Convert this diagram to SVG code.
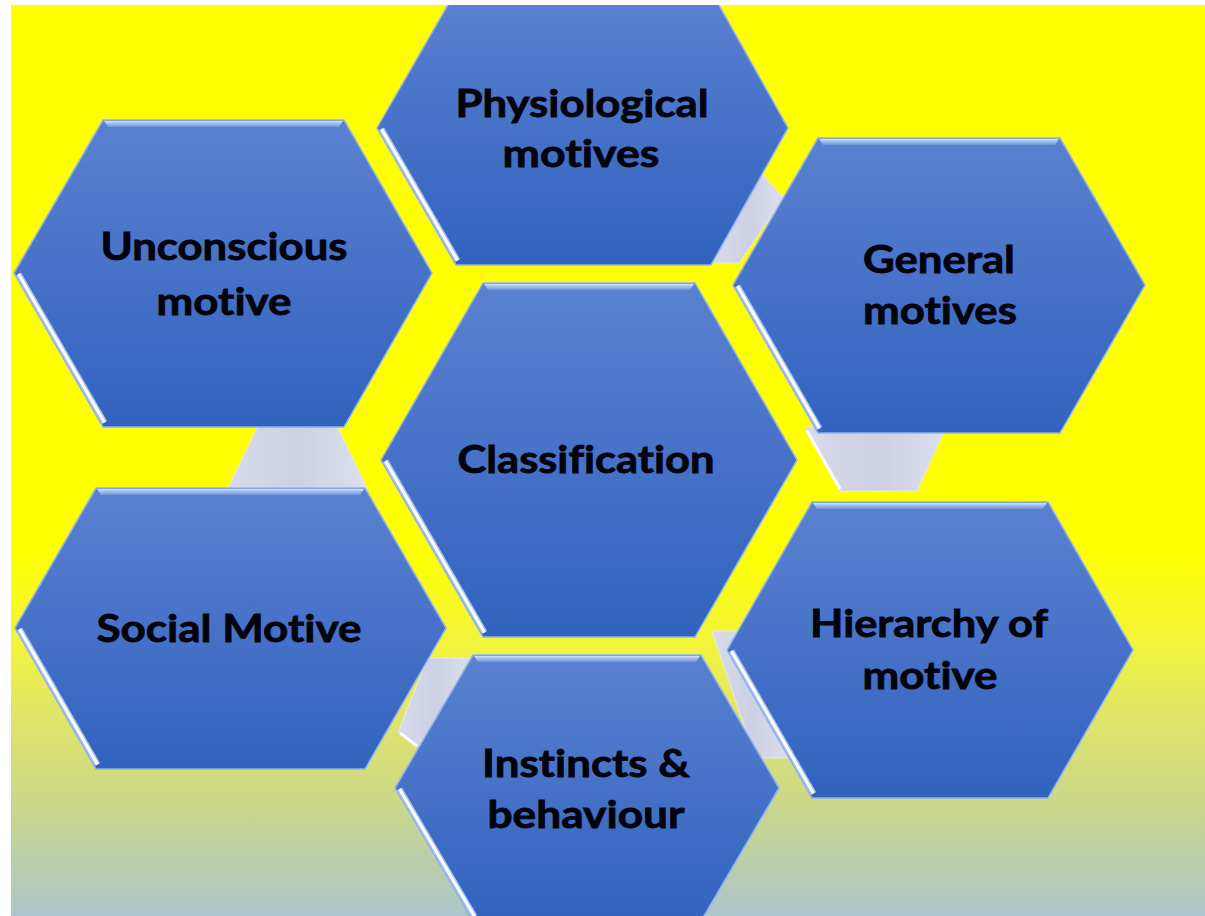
<svg xmlns="http://www.w3.org/2000/svg" width="1205" height="916" viewBox="0 0 1205 916">
  <defs>
    <clipPath id="slide">
      <rect x="11" y="5" width="1194" height="911"/>
    </clipPath>
    <linearGradient id="bg" gradientUnits="userSpaceOnUse" x1="0" y1="5" x2="0" y2="916">
      <stop offset="0" stop-color="#ffff00"/>
      <stop offset="0.6" stop-color="#ffff00"/>
      <stop offset="0.7" stop-color="#f2f43c"/>
      <stop offset="0.78" stop-color="#dfe568"/>
      <stop offset="0.89" stop-color="#c8d58f"/>
      <stop offset="1" stop-color="#acc5ca"/>
    </linearGradient>
    <linearGradient id="hexFill" x1="0" y1="0" x2="0" y2="1">
      <stop offset="0" stop-color="#5a81d0"/>
      <stop offset="0.45" stop-color="#4873c8"/>
      <stop offset="1" stop-color="#3163be"/>
    </linearGradient>
    <linearGradient id="bevelTop" x1="0" y1="0" x2="0" y2="1">
      <stop offset="0" stop-color="#d4e2f8"/>
      <stop offset="0.35" stop-color="#a8c2f0"/>
      <stop offset="1" stop-color="#6f93da"/>
    </linearGradient>
    <linearGradient id="linkFill" x1="0" y1="0" x2="1" y2="0">
      <stop offset="0" stop-color="#d8dbea"/>
      <stop offset="0.5" stop-color="#ccd0e3"/>
      <stop offset="1" stop-color="#dcdfed"/>
    </linearGradient>
    <style>
      .hex { fill: url(#hexFill); stroke: #8fb2ee; stroke-width: 1.5; stroke-linejoin: miter; }
      .bevel { fill: url(#bevelTop); }
      .edge-under { stroke: #a6c2f2; stroke-width: 6; fill: none; }
      .edge { stroke: #ffffff; stroke-width: 3; fill: none; }
      .link { fill: url(#linkFill); stroke: #e6e8f2; stroke-width: 1; }
      .link-edge { stroke: #ffffff; stroke-width: 3; fill: none; }
      .label { font-family: Lato, "Liberation Sans", sans-serif; font-weight: bold; font-size: 38px; font-variant-ligatures: none; fill: #03030c; stroke: #03030c; stroke-width: 0.8; text-anchor: middle; }
    </style>
  </defs>

  <g clip-path="url(#slide)">
    <rect x="11" y="5" width="1194" height="911" fill="url(#bg)"/>

    <!-- connecting pieces between the hexagons -->
    <g id="connectors">
      <polygon class="link" points="258,426 337,426 367,488 228,488"/>
      <polygon class="link" points="762,174 784,198 739,263 712,263"/>
      <polygon class="link" points="805,427 946,427 917,491 840,491"/>
      <line class="link-edge" x1="807" y1="431" x2="840" y2="489"/>
      <polygon class="link" points="428,658 474,658 421,748 398,732"/>
      <line class="link-edge" x1="400" y1="733" x2="417" y2="746"/>
      <polygon class="link" points="712,631 740,631 795,758 755,758"/>
    </g>

    <g id="node-physiological">
      <polygon class="hex" points="377,128 456,-9 711,-9 788,128 711,265 456,265"/>
      <line class="edge-under" x1="381.5" y1="129" x2="457.5" y2="260.5"/>
      <line class="edge" x1="381.5" y1="129" x2="457.5" y2="260.5"/>
      <text class="label" x="582" y="117" textLength="253" lengthAdjust="spacingAndGlyphs">Physiological</text>
      <text class="label" x="581" y="167" textLength="157" lengthAdjust="spacingAndGlyphs">motives</text>
    </g>

    <g id="node-unconscious">
      <polygon class="hex" points="14,273 103,120 344,120 432,273 344,427 103,427"/>
      <polygon class="bevel" points="104,121 343,121 339,127 108,127"/>
      <line class="edge-under" x1="18.5" y1="274" x2="104.5" y2="422.5"/>
      <line class="edge" x1="18.5" y1="274" x2="104.5" y2="422.5"/>
      <text class="label" x="224" y="260" textLength="247" lengthAdjust="spacingAndGlyphs">Unconscious</text>
      <text class="label" x="224" y="315" textLength="135" lengthAdjust="spacingAndGlyphs">motive</text>
    </g>

    <g id="node-general">
      <polygon class="hex" points="733,285 818,138 1060,138 1145,285 1060,433 818,433"/>
      <polygon class="bevel" points="819,139 1059,139 1055,145 823,145"/>
      <line class="edge-under" x1="737.5" y1="286" x2="819.5" y2="428.5"/>
      <line class="edge" x1="737.5" y1="286" x2="819.5" y2="428.5"/>
      <text class="label" x="939" y="273" textLength="152" lengthAdjust="spacingAndGlyphs">General</text>
      <text class="label" x="940" y="324" textLength="154" lengthAdjust="spacingAndGlyphs">motives</text>
    </g>

    <g id="node-classification">
      <polygon class="hex" points="381,460 483,283 695,283 797,460 695,637 483,637"/>
      <polygon class="bevel" points="484,284 694,284 690,290 488,290"/>
      <line class="edge-under" x1="385.5" y1="461" x2="484.5" y2="632.5"/>
      <line class="edge" x1="385.5" y1="461" x2="484.5" y2="632.5"/>
      <text class="label" x="586" y="473" textLength="257" lengthAdjust="spacingAndGlyphs">Classification</text>
    </g>

    <g id="node-social">
      <polygon class="hex" points="15,628 96,488 365,488 446,628 365,769 96,769"/>
      <polygon class="bevel" points="97,489 364,489 360,495 101,495"/>
      <line class="edge-under" x1="19.5" y1="629" x2="97.5" y2="764.5"/>
      <line class="edge" x1="19.5" y1="629" x2="97.5" y2="764.5"/>
      <text class="label" x="229" y="642" textLength="265" lengthAdjust="spacingAndGlyphs">Social Motive</text>
    </g>

    <g id="node-hierarchy">
      <polygon class="hex" points="727,650 812,502 1048,502 1133,650 1048,798 812,798"/>
      <polygon class="bevel" points="813,503 1047,503 1043,509 817,509"/>
      <line class="edge-under" x1="731.5" y1="651" x2="813.5" y2="793.5"/>
      <line class="edge" x1="731.5" y1="651" x2="813.5" y2="793.5"/>
      <text class="label" x="929" y="637" textLength="238" lengthAdjust="spacingAndGlyphs">Hierarchy of</text>
      <text class="label" x="930" y="689" textLength="135" lengthAdjust="spacingAndGlyphs">motive</text>
    </g>

    <g id="node-instincts">
      <polygon class="hex" points="395,788 473,655 701,655 779,788 701,921 473,921"/>
      <polygon class="bevel" points="474,656 700,656 696,662 478,662"/>
      <line class="edge-under" x1="399.5" y1="789" x2="474.5" y2="916.5"/>
      <line class="edge" x1="399.5" y1="789" x2="474.5" y2="916.5"/>
      <text class="label" x="586" y="777" textLength="208" lengthAdjust="spacingAndGlyphs">Instincts &amp;</text>
      <text class="label" x="586" y="828" textLength="197" lengthAdjust="spacingAndGlyphs">behaviour</text>
    </g>
  </g>
</svg>
